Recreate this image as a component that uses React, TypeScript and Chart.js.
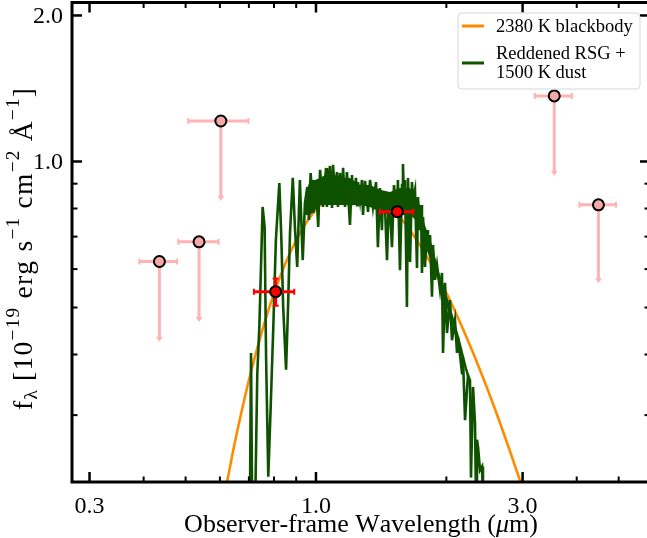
import React, { useEffect, useRef } from 'react';
import { Chart, registerables } from 'chart.js';
Chart.register(...registerables);

const FONT = '"Liberation Serif", "Times New Roman", serif';
const ORANGE = '#ff8c00';
const GREEN = '#0e5200';
const LIMIT_BAR = '#ffb3b3';
const LIMIT_FILL = '#f5aaaa';
const DET_RED = '#ff0000';

// 2380 K blackbody (wavelength in micron, flux in 1e-19 erg/s/cm2/A)
const bbWave = [0.62, 0.65, 0.70, 0.75, 0.80, 0.85, 0.90, 0.95, 1.0, 1.1, 1.2, 1.3, 1.4, 1.5, 1.6, 1.8, 2.0, 2.2, 2.4, 2.6, 2.8, 3.0];
const bbFlux = [0.213, 0.264, 0.354, 0.446, 0.535, 0.616, 0.688, 0.748, 0.796, 0.857, 0.880, 0.871, 0.841, 0.798, 0.748, 0.639, 0.536, 0.445, 0.369, 0.306, 0.254, 0.212];

// Reddened RSG + 1500 K dust spectrum (noisy)
const specWave = [
  0.704, 0.708, 0.712, 0.724, 0.732, 0.740, 0.753, 0.761, 0.767, 0.776, 0.786, 0.797, 0.808, 0.823, 0.832, 0.840,
  0.853, 0.862, 0.871, 0.884, 0.894, 0.905, 0.918, 0.932, 0.943, 0.955, 0.963, 0.972, 0.986, 1.000, 1.012,
  1.022, 1.038, 1.055, 1.060, 1.077, 1.089, 1.095, 1.106, 1.118, 1.124, 1.136, 1.148, 1.155, 1.167, 1.179, 1.198,
  1.211, 1.218, 1.237, 1.244, 1.250, 1.264, 1.277, 1.284, 1.298, 1.319, 1.333, 1.354, 1.376, 1.390, 1.405, 1.420,
  1.428, 1.443, 1.459, 1.474, 1.498, 1.514, 1.538, 1.546, 1.563, 1.580, 1.588, 1.597, 1.605, 1.622, 1.631, 1.649,
  1.666, 1.675, 1.693, 1.711, 1.720, 1.739, 1.748, 1.757, 1.767, 1.785, 1.805, 1.814, 1.834, 1.853, 1.863, 1.883,
  1.903, 1.934, 1.954, 1.965, 1.986, 2.007, 2.039, 2.061, 2.094, 2.117, 2.128, 2.174, 2.185, 2.209, 2.244, 2.268,
  2.280, 2.305, 2.329, 2.342, 2.354, 2.367, 2.392, 2.418, 2.430,
];
const specFlux = [
  0.20, 0.403, 0.20, 0.20, 0.366, 0.456, 0.806, 0.733, 0.395, 0.224, 0.312, 0.456, 0.689, 0.903, 0.689, 0.501,
  0.372, 0.501, 0.712, 0.925, 0.733, 0.606, 0.916, 0.626, 0.821, 0.886, 0.758, 0.947, 0.783, 0.903, 0.733,
  0.961, 0.806, 0.970, 0.806, 0.979, 0.802, 0.984, 0.853, 0.951, 0.806, 0.947, 0.833, 0.970, 0.806, 0.951, 0.740,
  0.938, 0.813, 0.925, 0.813, 0.907, 0.833, 0.916, 0.776, 0.912, 0.787, 0.916, 0.806, 0.907, 0.666, 0.882, 0.722,
  0.865, 0.813, 0.626, 0.865, 0.666, 0.894, 0.776, 0.916, 0.597, 0.894, 0.988, 0.833, 0.916, 0.501, 0.925, 0.621,
  0.907, 0.833, 0.874, 0.603, 0.845, 0.722, 0.813, 0.589, 0.768, 0.606, 0.722, 0.657, 0.705, 0.526, 0.673, 0.570,
  0.612, 0.543, 0.589, 0.403, 0.562, 0.443, 0.518, 0.428, 0.471, 0.403, 0.435, 0.366, 0.395, 0.293, 0.363, 0.354,
  0.223, 0.343, 0.289, 0.20, 0.267, 0.258, 0.231, 0.235, 0.20,
];

// dense core of the spectrum (upper / lower envelope of the unresolved noise)
const bandWave = [0.943, 0.969, 0.995, 1.022, 1.077, 1.136, 1.198, 1.264, 1.333, 1.405, 1.482, 1.563, 1.649, 1.720, 1.785, 1.853, 1.934, 2.039, 2.151, 2.244];
const bandUpper = [0.853, 0.916, 0.916, 0.925, 0.951, 0.925, 0.925, 0.894, 0.894, 0.874, 0.865, 0.882, 0.882, 0.833, 0.740, 0.673, 0.583, 0.506, 0.428, 0.368];
const bandLower = [0.776, 0.776, 0.794, 0.813, 0.813, 0.813, 0.813, 0.813, 0.806, 0.787, 0.776, 0.776, 0.776, 0.750, 0.673, 0.612, 0.556, 0.476, 0.405, 0.354];

// photometric upper limits
const limWave = [0.435, 0.537, 0.603, 3.55, 4.49];
const limFlux = [0.622, 0.683, 1.212, 1.365, 0.814];
const limXLo = [0.391, 0.481, 0.507, 3.20, 4.06];
const limXHi = [0.478, 0.596, 0.698, 3.90, 4.93];
const limArrowTo = [0.425, 0.467, 0.830, 0.934, 0.561];

// photometric detections
const detWave = [0.807, 1.541];
const detFlux = [0.539, 0.788];
const detXLo = [0.719, 1.405];
const detXHi = [0.891, 1.678];
const detYLo = [0.504, 0.788];
const detYHi = [0.574, 0.788];

const xRange = [0.2733, 5.906];
const yRange = [0.2184, 2.127];
const xMajorTicks = [0.3, 1.0, 3.0];
const xMinorTicks = [0.4, 0.5, 0.6, 0.7, 0.8, 0.9, 2.0, 4.0, 5.0];
const yMajorTicks = [1.0, 2.0];
const yMinorTicks = [0.3, 0.4, 0.5, 0.6, 0.7, 0.8, 0.9];

const legendEntries = [
  { lines: ['2380 K blackbody'], color: ORANGE },
  { lines: ['Reddened RSG +', '1500 K dust'], color: GREEN },
];

type Seg = { t: string; s?: number; dy?: number; it?: boolean };

function setFont(ctx: CanvasRenderingContext2D, g: Seg, size: number) {
  ctx.font = `${g.it ? 'italic ' : ''}${size * (g.s || 1)}px ${FONT}`;
}
function richWidth(ctx: CanvasRenderingContext2D, segs: Seg[], size: number, sp = 0) {
  let w = 0;
  let n = 0;
  for (const g of segs) {
    setFont(ctx, g, size);
    for (const ch of g.t) { w += ctx.measureText(ch).width; n++; }
  }
  return { w: w + sp * (n - 1), n, natural: w };
}
function drawRich(ctx: CanvasRenderingContext2D, segs: Seg[], size: number, x: number, y: number, sp = 0) {
  let cx = x;
  for (const g of segs) {
    setFont(ctx, g, size);
    for (const ch of g.t) {
      ctx.fillText(ch, cx, y - (g.dy || 0) * size);
      cx += ctx.measureText(ch).width + sp;
    }
  }
}

const overlay = {
  id: 'overlay',
  beforeDatasetDraw(chart: any, args: any) {
    const ds = chart.data.datasets[args.index];
    const ctx: CanvasRenderingContext2D = chart.ctx;
    const xs = chart.scales.x;
    const ys = chart.scales.y;
    if (ds.label === 'upper limits') {
      ctx.save();
      ctx.strokeStyle = LIMIT_BAR;
      ctx.fillStyle = LIMIT_BAR;
      for (let i = 0; i < limWave.length; i++) {
        const px = xs.getPixelForValue(limWave[i]);
        const py = ys.getPixelForValue(limFlux[i]);
        const x0 = xs.getPixelForValue(limXLo[i]);
        const x1 = xs.getPixelForValue(limXHi[i]);
        const ty = ys.getPixelForValue(limArrowTo[i]);
        ctx.lineWidth = 3;
        ctx.beginPath();
        ctx.moveTo(x0, py); ctx.lineTo(x1, py);
        ctx.moveTo(px, py); ctx.lineTo(px, ty - 4);
        ctx.stroke();
        ctx.lineWidth = 2;
        ctx.beginPath();
        ctx.moveTo(x0, py - 3); ctx.lineTo(x0, py + 3);
        ctx.moveTo(x1, py - 3); ctx.lineTo(x1, py + 3);
        ctx.stroke();
        ctx.beginPath();
        ctx.moveTo(px - 3.5, ty - 5); ctx.lineTo(px + 3.5, ty - 5); ctx.lineTo(px, ty); ctx.closePath();
        ctx.fill();
      }
      ctx.restore();
    }
    if (ds.label === 'detections') {
      ctx.save();
      ctx.strokeStyle = DET_RED;
      for (let i = 0; i < detWave.length; i++) {
        const px = xs.getPixelForValue(detWave[i]);
        const py = ys.getPixelForValue(detFlux[i]);
        const x0 = xs.getPixelForValue(detXLo[i]);
        const x1 = xs.getPixelForValue(detXHi[i]);
        const y0 = ys.getPixelForValue(detYLo[i]);
        const y1 = ys.getPixelForValue(detYHi[i]);
        ctx.lineWidth = 3;
        ctx.beginPath();
        ctx.moveTo(x0, py); ctx.lineTo(x1, py);
        if (Math.abs(y0 - y1) > 1) { ctx.moveTo(px, y0); ctx.lineTo(px, y1); }
        ctx.stroke();
        ctx.lineWidth = 2;
        ctx.beginPath();
        ctx.moveTo(x0, py - 3); ctx.lineTo(x0, py + 3);
        ctx.moveTo(x1, py - 3); ctx.lineTo(x1, py + 3);
        if (Math.abs(y0 - y1) > 1) {
          ctx.moveTo(px - 3, y0); ctx.lineTo(px + 3, y0);
          ctx.moveTo(px - 3, y1); ctx.lineTo(px + 3, y1);
        }
        ctx.stroke();
      }
      ctx.restore();
    }
  },
  afterDraw(chart: any) {
    const ctx: CanvasRenderingContext2D = chart.ctx;
    const { left, right, top, bottom } = chart.chartArea;
    const xs = chart.scales.x;
    const ys = chart.scales.y;
    ctx.save();
    // ticks
    ctx.strokeStyle = '#000';
    const tick = (x0: number, y0: number, x1: number, y1: number, w: number) => {
      ctx.lineWidth = w;
      ctx.beginPath(); ctx.moveTo(x0, y0); ctx.lineTo(x1, y1); ctx.stroke();
    };
    for (const v of xMajorTicks) {
      const p = xs.getPixelForValue(v);
      tick(p, bottom, p, bottom - 10, 2.5);
      tick(p, top, p, top + 10, 2.5);
    }
    for (const v of xMinorTicks) {
      const p = xs.getPixelForValue(v);
      tick(p, bottom, p, bottom - 5.5, 2);
      tick(p, top, p, top + 5.5, 2);
    }
    for (const v of yMajorTicks) {
      const p = ys.getPixelForValue(v);
      tick(left, p, left + 10, p, 2.5);
      tick(right, p, right - 10, p, 2.5);
    }
    for (const v of yMinorTicks) {
      const p = ys.getPixelForValue(v);
      tick(left, p, left + 5.5, p, 2);
      tick(right, p, right - 5.5, p, 2);
    }
    // frame
    ctx.lineWidth = 3;
    ctx.strokeRect(left, top, right - left, bottom - top);

    // tick labels
    ctx.fillStyle = '#000';
    ctx.font = `24px ${FONT}`;
    ctx.textBaseline = 'alphabetic';
    ctx.textAlign = 'center';
    for (const v of xMajorTicks) {
      ctx.fillText(v.toFixed(1), xs.getPixelForValue(v), bottom + 31);
    }
    ctx.textAlign = 'right';
    for (const v of yMajorTicks) {
      ctx.fillText(v.toFixed(1), left - 9, ys.getPixelForValue(v) + 8);
    }
    ctx.textAlign = 'left';

    // x title
    const xt: Seg[] = [{ t: 'Observer-frame Wavelength (' }, { t: '\u03bc', it: true }, { t: 'm)' }];
    const xw = richWidth(ctx, xt, 26).w;
    drawRich(ctx, xt, 26, (left + right) / 2 - xw / 2, 532);

    // y title
    const yt: Seg[] = [
      { t: 'f' }, { t: '\u03bb', s: 0.7, dy: -0.2 }, { t: ' [10' }, { t: '\u221219', s: 0.7, dy: 0.45 },
      { t: ' erg s' }, { t: '\u22121', s: 0.7, dy: 0.45 }, { t: ' cm' }, { t: '\u22122', s: 0.7, dy: 0.45 },
      { t: ' \u00c5' }, { t: '\u22121', s: 0.7, dy: 0.45 }, { t: ']' },
    ];
    const YF = 27.5;
    const m = richWidth(ctx, yt, YF);
    const targetLen = 322;
    const sp = Math.max(0, (targetLen - m.natural) / (m.n - 1));
    ctx.save();
    ctx.translate(31.5, 249);
    ctx.rotate(-Math.PI / 2);
    drawRich(ctx, yt, YF, -(m.natural + sp * (m.n - 1)) / 2, 0, sp);
    ctx.restore();

    // legend
    const lx = 458, ly = 13, lw = 182, lh = 76;
    ctx.beginPath();
    ctx.roundRect(lx, ly, lw, lh, 4);
    ctx.fillStyle = 'rgba(255,255,255,0.85)';
    ctx.fill();
    ctx.strokeStyle = '#d6d6d6';
    ctx.lineWidth = 1;
    ctx.stroke();
    ctx.font = `18.5px ${FONT}`;
    ctx.fillStyle = '#000';
    ctx.textBaseline = 'middle';
    const rows = [[26], [53, 72]];
    const lineY = [26, 63];
    legendEntries.forEach((e, i) => {
      ctx.strokeStyle = e.color;
      ctx.lineWidth = 3;
      ctx.beginPath(); ctx.moveTo(462, lineY[i]); ctx.lineTo(484, lineY[i]); ctx.stroke();
      e.lines.forEach((s, j) => ctx.fillText(s, 496, rows[i][j] + 1));
    });
    ctx.restore();
  },
};

export default function App() {
  const ref = useRef<HTMLCanvasElement>(null);
  useEffect(() => {
    if (!ref.current) return;
    const pts = (xs: number[], ys: number[]) => xs.map((x, i) => ({ x, y: ys[i] }));
    const chart = new Chart(ref.current, {
      type: 'line',
      data: {
        datasets: [
          {
            type: 'scatter', label: 'upper limits', data: pts(limWave, limFlux), order: 0,
            pointRadius: 5.5, pointBackgroundColor: LIMIT_FILL, pointBorderColor: '#000', pointBorderWidth: 2, showLine: false,
          } as any,
          {
            type: 'scatter', label: 'detections', data: pts(detWave, detFlux), order: 0,
            pointRadius: 5.5, pointBackgroundColor: DET_RED, pointBorderColor: '#000', pointBorderWidth: 2, showLine: false,
          } as any,
          {
            label: 'Reddened RSG + 1500 K dust', data: pts(specWave, specFlux), order: 1,
            borderColor: GREEN, borderWidth: 2.6, pointRadius: 0, tension: 0, fill: false,
          },
          {
            label: 'band upper', data: pts(bandWave, bandUpper), order: 2,
            borderWidth: 0, pointRadius: 0, fill: '+1', backgroundColor: GREEN, borderColor: GREEN,
          },
          {
            label: 'band lower', data: pts(bandWave, bandLower), order: 2,
            borderWidth: 0, pointRadius: 0, fill: false, borderColor: GREEN,
          },
          {
            label: '2380 K blackbody', data: pts(bbWave, bbFlux), order: 3,
            borderColor: ORANGE, borderWidth: 2.6, pointRadius: 0, cubicInterpolationMode: 'monotone', fill: false,
          },
        ],
      },
      options: {
        animation: false,
        responsive: false,
        maintainAspectRatio: false,
        events: [],
        layout: { autoPadding: false, padding: { left: 72, right: 10, top: 2.5, bottom: 56 } },
        scales: {
          x: { type: 'logarithmic', min: xRange[0], max: xRange[1], display: false },
          y: { type: 'logarithmic', min: yRange[0], max: yRange[1], display: false },
        },
        plugins: { legend: { display: false }, tooltip: { enabled: false } },
      },
      plugins: [overlay],
    });
    return () => chart.destroy();
  }, []);
  return (
    <div style={{ position: 'fixed', left: 0, top: 0, width: 647, height: 538, overflow: 'hidden', background: '#fff' }}>
      <canvas ref={ref} width={660} height={538} style={{ display: 'block' }} />
    </div>
  );
}
